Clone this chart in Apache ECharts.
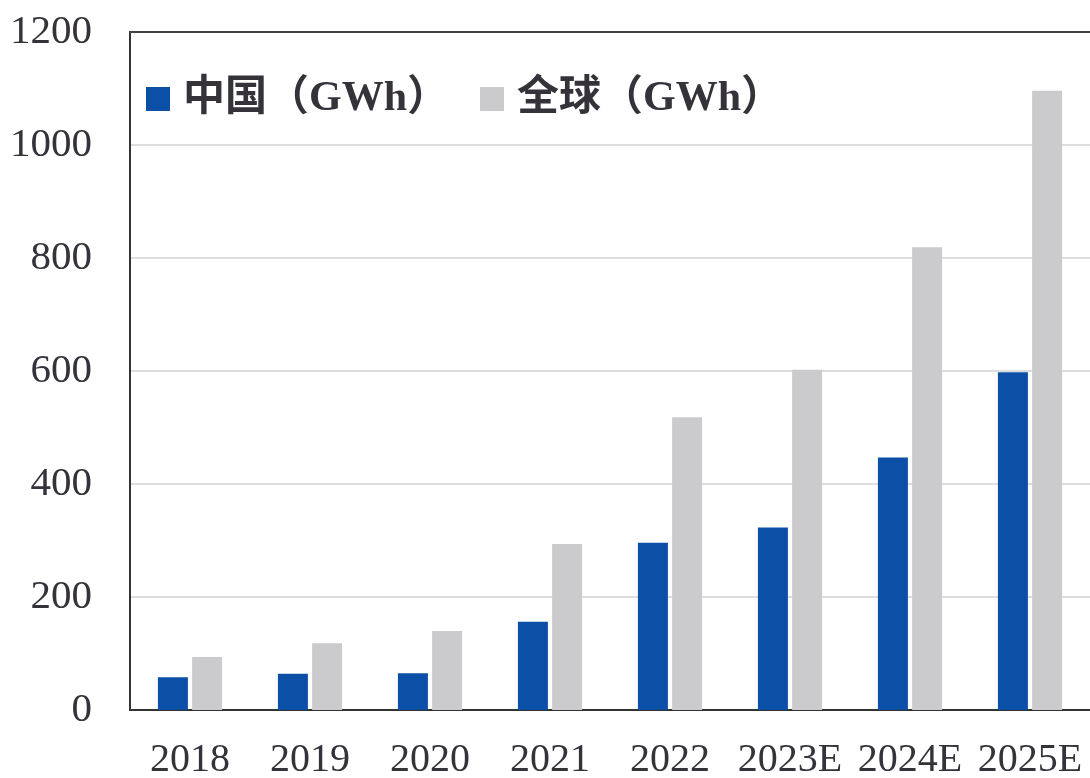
<!DOCTYPE html>
<html>
<head>
<meta charset="utf-8">
<script src="https://cdn.jsdelivr.net/npm/echarts@6/dist/echarts.min.js"></script>
<style>
    html, body {margin: 0; padding: 0; background: #fff;}
    #main {width: 1090px; height: 778px;}
</style>
</head>
<body>
<div id="main"></div>
<script>
// 年份
var years = ['2018', '2019', '2020', '2021', '2022', '2023E', '2024E', '2025E'];
// 中国（GWh）
var chinaValues = [58, 64, 65, 156, 296, 323, 447, 598];
// 全球（GWh）
var globalValues = [94, 118, 140, 294, 518, 602, 819, 1096];
// 纵轴刻度
var yTicks = [0, 200, 400, 600, 800, 1000, 1200];

var initChart = function () {
    var dom = document.getElementById("main");
    var myChart = echarts.init(dom);
    var option = {
        backgroundColor: '#fff',
        animation: false,
        grid: {
            left: 130,
            right: 0,
            top: 32,
            bottom: 68,
            outerBoundsMode: 'none'
        },
        legend: {
            left: 141,
            top: 73,
            itemWidth: 24,
            itemHeight: 24,
            itemGap: 31,
            icon: 'rect',
            textStyle: {
                fontFamily: '"Liberation Serif", "Noto Sans CJK SC", serif',
                fontWeight: 'bold',
                fontSize: 42,
                color: '#35323a',
                padding: [0, 0, 0, 8]
            },
            data: ['中国（GWh）', '全球（GWh）']
        },
        xAxis: [
            {
                type: 'category',
                data: years,
                axisTick: {show: false},
                axisLine: {lineStyle: {color: '#333', width: 2}},
                axisLabel: {
                    interval: 0,
                    margin: 30,
                    fontFamily: '"Liberation Serif", serif',
                    fontSize: 40,
                    color: '#35323a'
                }
            },
            {
                // 顶部边框
                type: 'category',
                position: 'top',
                data: years,
                axisTick: {show: false},
                axisLabel: {show: false},
                axisLine: {lineStyle: {color: '#444', width: 2}}
            }
        ],
        yAxis: {
            type: 'value',
            min: yTicks[0],
            max: yTicks[yTicks.length - 1],
            interval: yTicks[1] - yTicks[0],
            axisTick: {show: false},
            axisLine: {show: true, lineStyle: {color: '#333', width: 2}},
            splitLine: {lineStyle: {color: '#d2d2d4', width: 1.5}},
            axisLabel: {
                margin: 38,
                fontFamily: '"Liberation Serif", serif',
                fontSize: 41,
                color: '#35323a',
                formatter: function (v) {
                    return String(v);
                }
            }
        },
        series: [
            {
                name: '中国（GWh）',
                type: 'bar',
                barWidth: 30,
                barGap: '14%',
                itemStyle: {color: '#0b4fa6'},
                data: chinaValues
            },
            {
                name: '全球（GWh）',
                type: 'bar',
                barWidth: 30,
                barGap: '14%',
                itemStyle: {color: '#cbcbcd'},
                data: globalValues
            }
        ]
    };
    myChart.setOption(option, true);
};

initChart();
</script>
</body>
</html>
